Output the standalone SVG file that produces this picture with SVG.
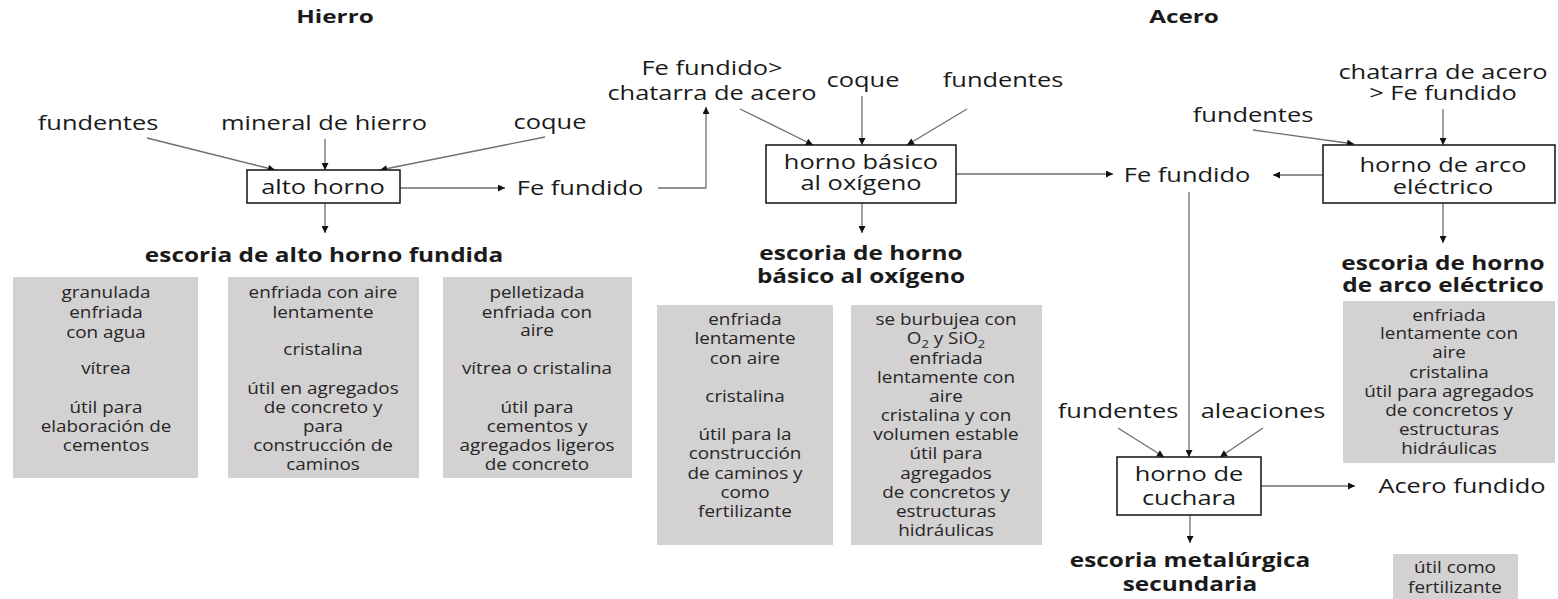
<svg xmlns="http://www.w3.org/2000/svg" width="1558" height="599" viewBox="0 0 1558 599">
<style>
text{font-family:"Open Sans","Liberation Sans",sans-serif;fill:#1a1a1a;text-anchor:middle}
.lab{font-size:20px}
.bold{font-size:20px;font-weight:bold}
.title{font-size:18px;font-weight:bold}
.small{font-size:16px;fill:#262626}
.sub{font-size:11px}
.box{fill:#fff;stroke:#111;stroke-width:1.5}
.gray{fill:#d3d1d2}
.conn line,.conn polyline{stroke:#6e6e6e;stroke-width:1.3;fill:none;marker-end:url(#ah)}
</style>
<defs>
<marker id="ah" viewBox="0 0 10 10" refX="10" refY="5" markerWidth="8" markerHeight="7" orient="auto" markerUnits="userSpaceOnUse"><path d="M0,0 L10,5 L0,10 z" fill="#111"/></marker>
</defs>
<rect width="1558" height="599" fill="#fff"/>

<g id="titles">
<text class="title" transform="translate(335,0) scale(1.35,1)" y="23">Hierro</text>
<text class="title" transform="translate(1184,0) scale(1.35,1)" y="23">Acero</text>
</g>

<g class="conn" id="connectors">
<line x1="147" y1="138" x2="275" y2="170"/>
<line x1="325" y1="139" x2="325" y2="170"/>
<line x1="545" y1="137" x2="380" y2="170"/>
<line x1="400" y1="188" x2="505" y2="188"/>
<line x1="325" y1="203" x2="325" y2="233"/>
<polyline points="658,188 706,188 706,107"/>
<line x1="740" y1="109" x2="813" y2="145"/>
<line x1="862" y1="96" x2="862" y2="145"/>
<line x1="967" y1="109" x2="907" y2="145"/>
<line x1="956" y1="174" x2="1113" y2="174"/>
<line x1="862" y1="203" x2="862" y2="233"/>
<line x1="1253" y1="130" x2="1354" y2="144"/>
<line x1="1443" y1="109" x2="1443" y2="145"/>
<line x1="1323" y1="175" x2="1273" y2="175"/>
<line x1="1443" y1="203" x2="1443" y2="243"/>
<line x1="1189" y1="192" x2="1189" y2="457"/>
<line x1="1118" y1="428" x2="1164" y2="457"/>
<line x1="1263" y1="428" x2="1220" y2="457"/>
<line x1="1261" y1="486" x2="1355" y2="486"/>
<line x1="1190" y1="515" x2="1190" y2="543"/>
</g>

<g id="in-fundentes1"><text class="lab" transform="translate(98,0) scale(1.27,1)" y="130">fundentes</text></g>
<g id="in-mineral"><text class="lab" transform="translate(324,0) scale(1.27,1)" y="130">mineral de hierro</text></g>
<g id="in-coque1"><text class="lab" transform="translate(550,0) scale(1.27,1)" y="129">coque</text></g>

<g id="alto-horno">
<rect class="box" x="247" y="170" width="153" height="33"/>
<text class="lab" transform="translate(323,0) scale(1.27,1)" y="194">alto horno</text>
</g>

<g id="fe-fundido1"><text class="lab" transform="translate(580,0) scale(1.27,1)" y="195">Fe fundido</text></g>

<g id="escoria-alto-horno"><text class="bold" transform="translate(324,0) scale(1.22,1)" y="262">escoria de alto horno fundida</text></g>

<g id="in-fe-chatarra"><text class="lab" transform="translate(712,0) scale(1.27,1)"><tspan x="0" y="75">Fe fundido&gt;</tspan><tspan x="0" y="100">chatarra de acero</tspan></text></g>
<g id="in-coque2"><text class="lab" transform="translate(863,0) scale(1.27,1)" y="87">coque</text></g>
<g id="in-fundentes2"><text class="lab" transform="translate(1003,0) scale(1.27,1)" y="87">fundentes</text></g>

<g id="horno-basico">
<rect class="box" x="766" y="145" width="190" height="58"/>
<text class="lab" transform="translate(861,0) scale(1.27,1)"><tspan x="0" y="169">horno básico</tspan><tspan x="0" y="190">al oxígeno</tspan></text>
</g>

<g id="escoria-basico"><text class="bold" transform="translate(861,0) scale(1.22,1)"><tspan x="0" y="260">escoria de horno</tspan><tspan x="0" y="283">básico al oxígeno</tspan></text></g>

<g id="fe-fundido2"><text class="lab" transform="translate(1187,0) scale(1.27,1)" y="182">Fe fundido</text></g>

<g id="in-chatarra-fe"><text class="lab" transform="translate(1443,0) scale(1.27,1)"><tspan x="0" y="79">chatarra de acero</tspan><tspan x="0" y="100">&gt; Fe fundido</tspan></text></g>
<g id="in-fundentes3"><text class="lab" transform="translate(1253,0) scale(1.27,1)" y="122">fundentes</text></g>

<g id="horno-arco">
<rect class="box" x="1323" y="145" width="232" height="58"/>
<text class="lab" transform="translate(1443,0) scale(1.27,1)"><tspan x="0" y="172">horno de arco</tspan><tspan x="0" y="194">eléctrico</tspan></text>
</g>

<g id="escoria-arco"><text class="bold" transform="translate(1443,0) scale(1.22,1)"><tspan x="0" y="270">escoria de horno</tspan><tspan x="0" y="292">de arco eléctrico</tspan></text></g>

<g id="in-fundentes4"><text class="lab" transform="translate(1118,0) scale(1.27,1)" y="418">fundentes</text></g>
<g id="in-aleaciones"><text class="lab" transform="translate(1263,0) scale(1.27,1)" y="418">aleaciones</text></g>

<g id="horno-cuchara">
<rect class="box" x="1117" y="457" width="144" height="58"/>
<text class="lab" transform="translate(1189,0) scale(1.27,1)"><tspan x="0" y="481">horno de</tspan><tspan x="0" y="505">cuchara</tspan></text>
</g>

<g id="acero-fundido"><text class="lab" transform="translate(1462,0) scale(1.27,1)" y="493">Acero fundido</text></g>

<g id="escoria-secundaria"><text class="bold" transform="translate(1190,0) scale(1.22,1)"><tspan x="0" y="567">escoria metalúrgica</tspan><tspan x="0" y="591">secundaria</tspan></text></g>

<g id="info-granulada">
<rect class="gray" x="13" y="277" width="185" height="201"/>
<text class="small" transform="translate(106,0) scale(1.18,1)"><tspan x="0" y="298">granulada</tspan><tspan x="0" y="318">enfriada</tspan><tspan x="0" y="338">con agua</tspan><tspan x="0" y="374">vítrea</tspan><tspan x="0" y="413">útil para</tspan><tspan x="0" y="432">elaboración de</tspan><tspan x="0" y="451">cementos</tspan></text>
</g>

<g id="info-enfriada-aire">
<rect class="gray" x="228" y="277" width="191" height="201"/>
<text class="small" transform="translate(323,0) scale(1.18,1)"><tspan x="0" y="298">enfriada con aire</tspan><tspan x="0" y="318">lentamente</tspan><tspan x="0" y="355">cristalina</tspan><tspan x="0" y="394">útil en agregados</tspan><tspan x="0" y="413">de concreto y</tspan><tspan x="0" y="432">para</tspan><tspan x="0" y="451">construcción de</tspan><tspan x="0" y="470">caminos</tspan></text>
</g>

<g id="info-pelletizada">
<rect class="gray" x="443" y="277" width="189" height="201"/>
<text class="small" transform="translate(537,0) scale(1.18,1)"><tspan x="0" y="298">pelletizada</tspan><tspan x="0" y="318">enfriada con</tspan><tspan x="0" y="336">aire</tspan><tspan x="0" y="374">vítrea o cristalina</tspan><tspan x="0" y="413">útil para</tspan><tspan x="0" y="432">cementos y</tspan><tspan x="0" y="451">agregados ligeros</tspan><tspan x="0" y="470">de concreto</tspan></text>
</g>

<g id="info-basico-1">
<rect class="gray" x="657" y="305" width="176" height="240"/>
<text class="small" transform="translate(745,0) scale(1.18,1)"><tspan x="0" y="325">enfriada</tspan><tspan x="0" y="344">lentamente</tspan><tspan x="0" y="364">con aire</tspan><tspan x="0" y="402">cristalina</tspan><tspan x="0" y="440">útil para la</tspan><tspan x="0" y="459">construcción</tspan><tspan x="0" y="479">de caminos y</tspan><tspan x="0" y="498">como</tspan><tspan x="0" y="517">fertilizante</tspan></text>
</g>

<g id="info-basico-2">
<rect class="gray" x="851" y="305" width="191" height="240"/>
<text class="small" transform="translate(946,0) scale(1.18,1)"><tspan x="0" y="325">se burbujea con</tspan><tspan x="0" y="344">O<tspan class="sub" dy="4">2</tspan><tspan dy="-4"> y SiO</tspan><tspan class="sub" dy="4">2</tspan></tspan><tspan x="0" y="364">enfriada</tspan><tspan x="0" y="383">lentamente con</tspan><tspan x="0" y="402">aire</tspan><tspan x="0" y="421">cristalina y con</tspan><tspan x="0" y="440">volumen estable</tspan><tspan x="0" y="459">útil para</tspan><tspan x="0" y="479">agregados</tspan><tspan x="0" y="498">de concretos y</tspan><tspan x="0" y="517">estructuras</tspan><tspan x="0" y="536">hidráulicas</tspan></text>
</g>

<g id="info-arco">
<rect class="gray" x="1343" y="301" width="212" height="162"/>
<text class="small" transform="translate(1449,0) scale(1.18,1)"><tspan x="0" y="321">enfriada</tspan><tspan x="0" y="339">lentamente con</tspan><tspan x="0" y="358">aire</tspan><tspan x="0" y="378">cristalina</tspan><tspan x="0" y="397">útil para agregados</tspan><tspan x="0" y="416">de concretos y</tspan><tspan x="0" y="435">estructuras</tspan><tspan x="0" y="454">hidráulicas</tspan></text>
</g>

<g id="info-secundaria">
<rect class="gray" x="1393" y="554" width="125" height="45"/>
<text class="small" transform="translate(1455,0) scale(1.18,1)"><tspan x="0" y="573">útil como</tspan><tspan x="0" y="593">fertilizante</tspan></text>
</g>
</svg>
